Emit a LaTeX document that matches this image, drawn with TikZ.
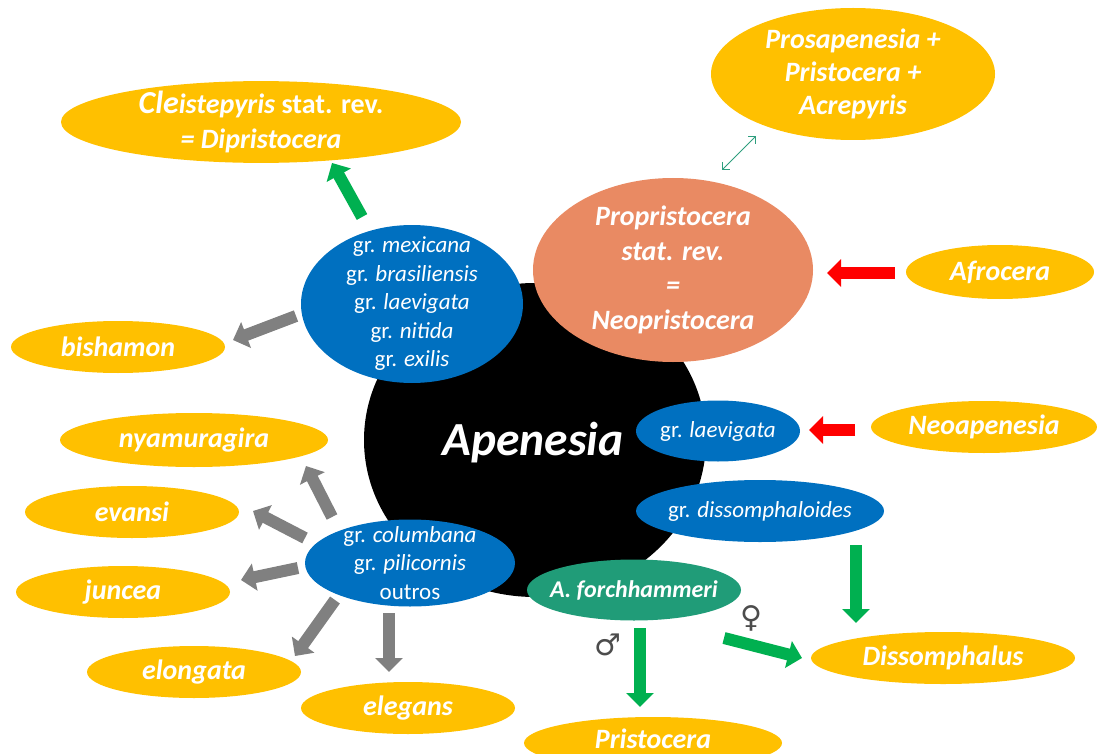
\documentclass[tikz,border=0pt]{standalone}
\usepackage{fontspec}
\setmainfont{Carlito}
\newfontfamily\symfont{DejaVu Sans}
\usetikzlibrary{shapes.geometric,arrows.meta,calc}
\definecolor{cY}{HTML}{FFC000}
\definecolor{cB}{HTML}{0070C0}
\definecolor{cO}{HTML}{E98A63}
\definecolor{cT}{HTML}{209C78}
\definecolor{cG}{HTML}{00B050}
\definecolor{cR}{HTML}{FF0000}
\definecolor{cGr}{HTML}{808080}
\definecolor{cThin}{HTML}{2E9E7E}
\tikzset{
  oval/.style={ellipse, inner sep=0pt, align=center, text=white},
  yel/.style={oval, fill=cY, font=\fontsize{28}{33}\selectfont\bfseries\itshape},
  blu/.style={oval, fill=cB, font=\fontsize{23}{28.5}\selectfont},
  fat/.style={line width=12pt, line cap=butt, -{Triangle[width=27pt,length=14pt]}},
  garrow/.style={fat, draw=cG},
  grarrow/.style={fat, draw=cGr},
  rarrow/.style={fat, draw=cR},
  sym/.style={text=black!70, font=\symfont\fontsize{30}{30}\selectfont, inner sep=0pt},
  sz/.style 2 args={minimum width=#1pt, minimum height=#2pt}
}
\begin{document}
\begin{tikzpicture}[x=1pt,y=-1pt]
\useasboundingbox (0,0) rectangle (1097,754);
% central
\node[oval, fill=black, sz={342}{314}] (apen) at (535,440) {};
\node[text=white, font=\fontsize{47.5}{48}\selectfont\bfseries\itshape, inner sep=0pt] (apentxt) at (533,443) {Apenesia};
% left top
\node[yel, sz={400}{78}, inner ysep=-2pt, font=\fontsize{28}{35}\selectfont\bfseries] (cleist) at (261,122)
  {{\itshape{\fontsize{32}{35}\selectfont Cle}istepyris} stat. rev.\\ \itshape = Dipristocera};
\node[blu, sz={222}{158}, inner ysep=-13pt] (mex) at (412,304)
  {gr. \textit{mexicana}\\ gr. \textit{brasiliensis}\\ gr. \textit{laevigata}\\ gr. \textit{nitida}\\ gr. \textit{exilis}};
\node[yel, sz={214}{52}] (bish) at (118,347) {bishamon};
% right top
\node[yel, sz={284}{132}] (pros) at (853,74) {Prosapenesia +\\ Pristocera +\\ Acrepyris};
\node[oval, fill=cO, sz={280}{184}, font=\fontsize{28}{34.5}\selectfont\bfseries\itshape] (prop) at (673,270)
  {Propristocera\\ stat. rev.\\ =\\ Neopristocera};
\node[yel, sz={188}{54}] (afro) at (1000,272) {Afrocera};
% right middle
\node[blu, sz={164}{61}, inner xsep=-4pt] (laev) at (718,431) {gr. \textit{laevigata}};
\node[yel, sz={226}{52}] (neo) at (984,427) {Neoapenesia};
\node[blu, sz={248}{62}, inner xsep=-8pt] (dis) at (760,511) {gr. \textit{dissomphaloides}};
\node[oval, fill=cT, sz={214}{61}, inner xsep=-9pt, font=\fontsize{24}{26}\selectfont\bfseries\itshape] (forch) at (634,590) {A. forchhammeri};
\node[yel, sz={264}{52}] (dsp) at (943,658) {Dissomphalus};
\node[yel, sz={258}{52}, text height=18pt, text depth=8pt] (prist) at (653,743) {Pristocera};
\node[sym] (male) at (608,645) {♂};
\node[sym] (female) at (751,618) {♀};
% left bottom
\node[blu, sz={210}{87}, inner ysep=-10pt] (col) at (410,563) {gr. \textit{columbana}\\ gr. \textit{pilicornis}\\ outros};
\node[yel, sz={268}{54}] (nyam) at (194,440) {nyamuragira};
\node[yel, sz={214}{52}] (evansi) at (132,512) {evansi};
\node[yel, sz={214}{52}] (juncea) at (123,592) {juncea};
\node[yel, sz={214}{52}] (elong) at (194,672) {elongata};
\node[yel, sz={214}{52}] (eleg) at (408,708) {elegans};
% arrows
\draw[garrow] ($(mex)+(-50,-87)$) -- ($(cleist)+(71,41)$);
\draw[grarrow] ($(mex)+(-116,12)$) -- ($(bish)+(115,-7)$);
\draw[cThin, line width=0.9pt, {Straight Barb[length=5pt,width=10pt]}-{Straight Barb[length=5pt,width=10pt]}] ($(prop)+(49,-100)$) -- ($(pros)+(-97,62)$);
\draw[rarrow] ($(afro)+(-105,1)$) -- ($(prop)+(154,3)$);
\draw[rarrow] ($(neo)+(-129,3)$) -- ($(laev)+(91,-1)$);
\draw[garrow] ($(dis)+(96,34)$) -- ($(dsp)+(-87,-35)$);
\draw[garrow] ($(forch)+(6,38)$) -- ($(prist)+(-13,-36)$);
\draw[garrow] ($(forch)+(90,48)$) -- ($(dsp)+(-141,0)$);
\draw[grarrow] ($(col)+(-78,-46)$) -- ($(nyam)+(112,26)$);
\draw[grarrow] ($(col)+(-105,-25)$) -- ($(evansi)+(121,-1)$);
\draw[grarrow] ($(col)+(-112,5)$) -- ($(juncea)+(118,-12)$);
\draw[grarrow] ($(col)+(-75,37)$) -- ($(elong)+(101,-16)$);
\draw[grarrow] ($(col)+(-21,50)$) -- ($(eleg)+(-19,-36)$);
\end{tikzpicture}
\end{document}
